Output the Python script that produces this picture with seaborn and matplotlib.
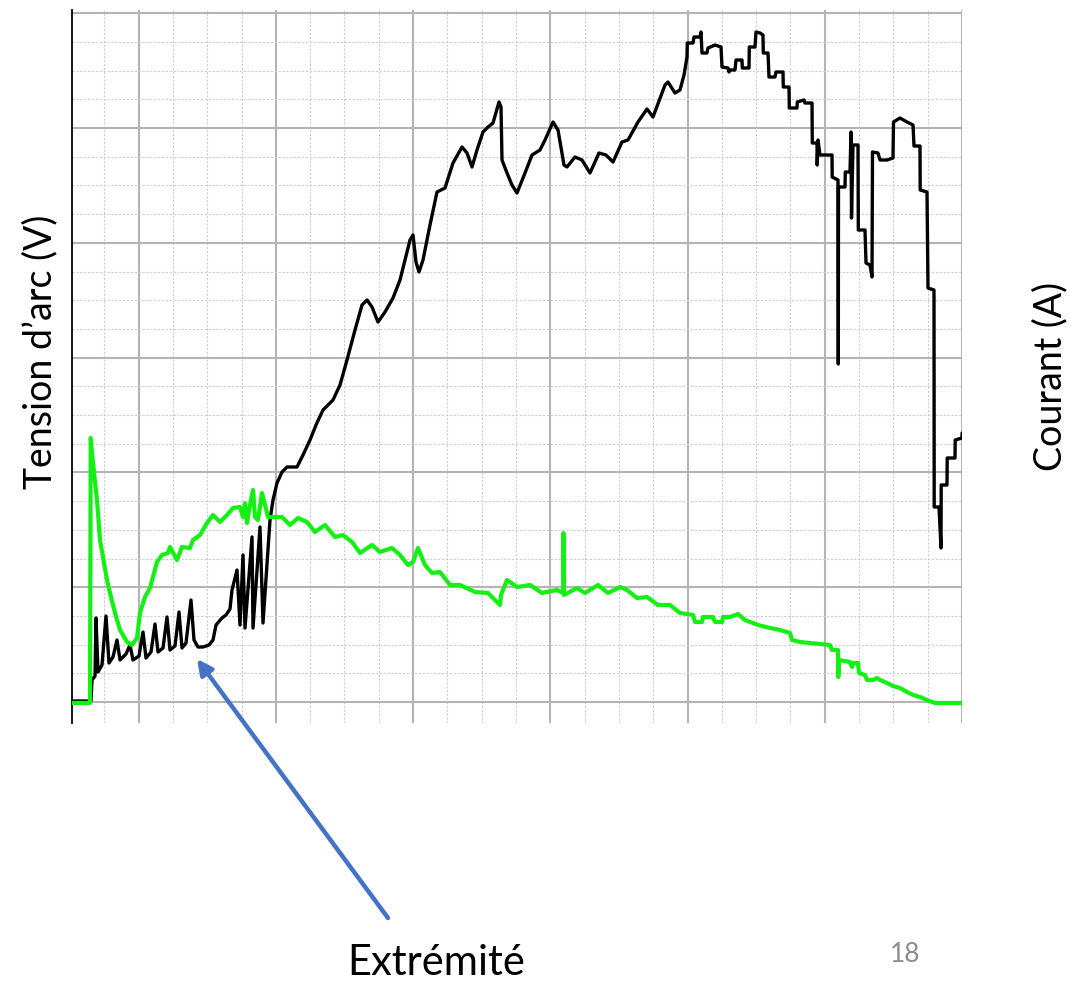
import numpy as np
import pandas as pd
import matplotlib
matplotlib.use("Agg")
import matplotlib.pyplot as plt
import seaborn as sns

# ---------------- data (time in arbitrary units, signals in arbitrary units) ----------------
t_tension = [0, 16, 19, 20, 23, 24, 26, 30, 34, 37, 41, 45, 48, 54, 58, 61, 67, 71, 74, 79,
             83, 86, 91, 95, 98, 103, 107, 110, 114, 119, 122, 126, 131, 137, 141, 144, 150,
             154, 158, 160, 165, 168, 171, 173, 180, 181, 188, 191, 198, 201, 205, 210, 215,
             225, 231, 238, 244, 251, 261, 268, 275, 283, 290, 295, 300, 306, 313, 321, 328,
             333, 338, 341, 344, 347, 351, 358, 365, 373, 381, 390, 395, 400, 405, 411, 416,
             421, 427, 429, 430, 435, 440, 445, 453, 460, 468, 473, 481, 486, 492, 495, 503,
             510, 518, 527, 534, 541, 550, 556, 566, 575, 581, 593, 596, 603, 608, 612, 615,
             615.3, 621, 622, 628, 629, 630, 635, 636, 643, 649, 650, 656, 657, 658, 663, 664,
             670, 670.3, 677, 677.3, 683, 684, 688, 691, 691.3, 696, 697, 703, 704, 711, 711.3,
             717, 717.3, 725, 725.3, 732, 733, 740, 740.3, 745, 745.2, 746, 748, 753, 760,
             760.2, 766, 766.3, 766.5, 773, 773.3, 778, 779, 779.5, 781, 786, 786.3, 793, 794,
             798, 800, 800.5, 806, 808, 815, 821, 821.5, 828, 835, 841, 842, 848, 848.2, 855,
             856, 862, 862.2, 867, 869, 869.2, 875, 875.2, 883, 883.2, 890, 890.1]
tension = [1, 1, 1, 22, 26, 84, 30, 37, 86, 39, 45, 62, 42, 48, 57, 42, 46, 70, 44, 50,
           78, 50, 54, 85, 52, 56, 90, 54, 59, 102, 62, 55, 55, 57, 62, 77, 84,
           87, 93, 112, 132, 77, 147, 74, 165, 74, 175, 79, 182, 202, 219, 230, 235,
           235, 247, 262, 277, 292, 302, 317, 342, 372, 397, 402, 395, 380, 390, 404, 422,
           442, 462, 467, 440, 430, 442, 477, 510, 514, 539, 555, 549, 535, 552, 570, 575,
           579, 600, 595, 542, 529, 517, 509, 529, 547, 552, 562, 580, 572, 537, 535, 545,
           542, 529, 549, 547, 540, 560, 562, 580, 593, 585, 617, 620, 609, 612, 627, 645,
           659, 659, 665, 665, 670, 649, 649, 654, 657, 655, 635, 634, 630, 632, 632, 642,
           642, 634, 634, 655, 655, 670, 669, 667, 649, 649, 625, 625, 630, 630, 615,
           615, 594, 594, 600, 602, 599, 599, 559, 559, 537, 562, 547, 547, 547,
           525, 522, 338, 515, 515, 530, 530, 570, 484, 557, 557, 472, 472, 439,
           437, 425, 550, 549, 542, 542, 544, 580, 584, 580, 577, 556, 556, 512, 510,
           414, 412, 195, 195, 154, 217, 217, 244, 244, 262, 264, 269]

t_courant = [0, 18, 18.7, 21, 25, 28, 31, 35, 38, 43, 48, 55, 60, 65, 68, 73, 78, 85, 90, 96,
             98, 105, 110, 118, 121, 128, 135, 141, 148, 155, 161, 168, 171, 173, 175, 178,
             181, 183, 186, 190, 193, 196, 201, 210, 218, 226, 235, 243, 253, 263, 271, 280,
             288, 300, 308, 320, 328, 336, 341, 346, 353, 360, 368, 378, 388, 403, 416, 428,
             429, 435, 445, 458, 470, 485, 491.3, 491.5, 492, 505, 513, 526, 536, 548, 555,
             565, 575, 586, 598, 608, 621, 623, 630, 631, 641, 643, 650, 651, 658, 666, 673,
             686, 698, 708, 718, 720, 728, 738, 758, 760, 766, 766.3, 767, 778, 780, 781, 786,
             787, 793, 795, 801, 805, 808, 815, 821, 828, 835, 841, 848, 855, 863, 890]
courant = [-1, -1, 264, 239, 202, 162, 145, 122, 109, 89, 72, 60, 57, 64, 89, 105, 114, 140,
           147, 149, 155, 142, 155, 154, 162, 167, 179, 187, 180, 187, 194, 195, 185, 199,
           179, 197, 212, 185, 182, 209, 197, 185, 185, 185, 177, 184, 180, 170, 177, 165,
           167, 160, 149, 157, 150, 154, 147, 137, 140, 154, 137, 129, 130, 117, 117, 110,
           109, 97, 107, 122, 115, 117, 109, 112, 109, 169, 107, 114, 109, 117, 109, 115,
           112, 104, 105, 97, 97, 89, 87, 80, 80, 85, 85, 80, 80, 85, 85, 88, 82, 77, 74,
           72, 69, 62, 60, 59, 57, 52, 52, 25, 42, 40, 35, 39, 39, 29, 27, 22, 22, 24, 22,
           19, 16, 14, 10, 7, 5, 2, -1, -1]

df_t = pd.DataFrame({"t": t_tension, "v": tension})
df_c = pd.DataFrame({"t": t_courant, "i": courant})

# ---------------- figure ----------------
sns.set_style("white")
plt.rcParams["font.family"] = ["Lato", "DejaVu Sans"]

W, H = 1076, 983
fig = plt.figure(figsize=(W / 100, H / 100), dpi=100)
ax = fig.add_axes([72 / W, 1 - 723 / H, (962 - 72) / W, (723 - 10) / H])

xlim = (0, 890)
ylim = (-21, 692)
xmaj = np.arange(66.7, 891, 137.2)
xmin = np.arange(32.4, 891, 34.3)
ymaj = np.arange(0, 692, 114.8)
ymin = np.arange(0, 692, 28.7)

ax.set_xlim(*xlim)
ax.set_ylim(*ylim)
ax.set_xticks(xmaj)
ax.set_xticks(xmin, minor=True)
ax.set_yticks(ymaj)
ax.set_yticks(ymin, minor=True)
ax.grid(which="minor", color="#cdcdcd", linestyle=(0, (2, 1.5)), linewidth=0.8)
ax.grid(which="major", color="#b4b4b4", linestyle="-", linewidth=1.5)
ax.tick_params(which="both", length=0, labelleft=False, labelbottom=False)
for s in ["top", "right", "bottom"]:
    ax.spines[s].set_visible(False)
ax.spines["left"].set_color("black")
ax.spines["left"].set_linewidth(1.3)
ax.set_axisbelow(True)

sns.lineplot(data=df_t, x="t", y="v", sort=False, estimator=None, color="black",
             linewidth=2.4, ax=ax)

ax2 = ax.twinx()
ax2.set_ylim(*ylim)
ax2.set_xlim(*xlim)
ax2.axis("off")
sns.lineplot(data=df_c, x="t", y="i", sort=False, estimator=None, color="#14f014",
             linewidth=3.0, ax=ax2)

ax.set_xlabel("")
ax.set_ylabel("")
ax2.set_ylabel("")

# labels
fig.text(40 / W, 1 - 352 / H, "Tension d\u2019arc (V)", rotation=90, ha="center", va="center",
         fontsize=27, color="black")
fig.text(1050 / W, 1 - 376 / H, "Courant (A)", rotation=90, ha="center", va="center",
         fontsize=27, color="black")
fig.text(436 / W, 1 - 963 / H, "Extrémité", ha="center", va="center", fontsize=30, color="black")
fig.text(905 / W, 1 - 955 / H, "18", ha="center", va="center", fontsize=19, color="#8c8c8c")

# arrow pointing at the extremity
ax.annotate("", xy=(125, 43), xycoords="data",
            xytext=(388 / W, 1 - 918 / H), textcoords="figure fraction",
            arrowprops=dict(arrowstyle="-|>,head_length=0.9,head_width=0.45",
                            color="#4472C4", linewidth=3.2, shrinkA=0, shrinkB=0),
            annotation_clip=False)

fig.savefig("out.png", dpi=100)
